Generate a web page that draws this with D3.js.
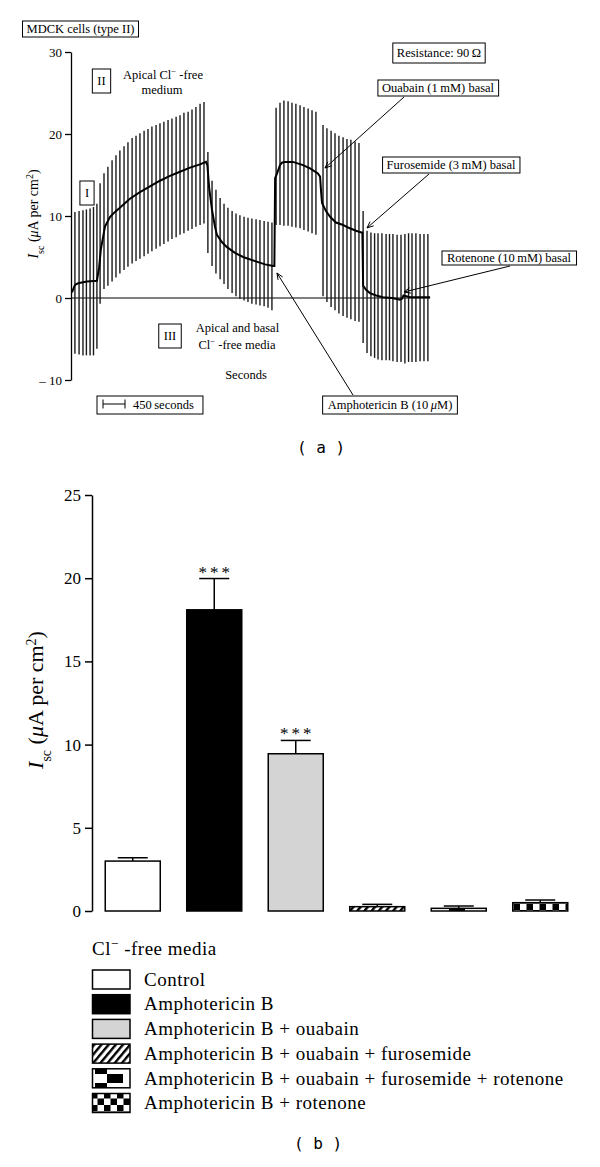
<!DOCTYPE html>
<html><head><meta charset="utf-8">
<script src="https://cdn.jsdelivr.net/npm/d3@7"></script>
<style>
body{margin:0;background:#fff;}
svg{display:block;}
text{font-family:"Liberation Serif","Times New Roman",serif;fill:#000;}
</style></head>
<body><svg id="chart" width="600" height="1167"></svg>
<script>
// ================= Panel (a) data =================
// voltage-clamp pulse bars: time (s), top and bottom (µA per cm²)
const pulseTimes = [80,165,245,315,390,460,530,
  595,675,755,840,920,1000,1085,1165,1250,1330,1410,1495,1575,1655,1740,1820,1900,1985,2065,2150,2230,2310,2395,2475,2555,2640,2720,
  2800,
  2885,2965,3050,3130,3210,3295,3375,3455,3540,3620,3700,3785,3865,3950,4030,4110,
  4195,4275,4355,4440,4520,4600,4685,4765,4850,4930,5010,
  5155,5235,5320,5400,5480,5565,5645,5725,5810,5890,
  5975,
  6055,6135,6210,6280,6360,6445,6515,6585,6670,6750,6830,6905,6975,7055,7140,7220,7300];
const pulseTop = [10.5,10.6,10.7,10.8,10.9,11.1,11.5,
  14.0,15.2,16.0,16.8,17.4,18.0,18.5,19.0,19.5,19.8,20.1,20.4,20.6,20.9,21.1,21.3,21.5,21.7,21.9,22.1,22.3,22.6,22.7,23.0,23.3,23.7,23.9,
  17.8,
  14.3,13.2,12.2,11.5,11.0,10.6,10.3,10.1,9.9,9.8,9.7,9.6,9.5,9.4,9.3,9.2,
  23.2,23.8,24.1,24.0,23.8,23.7,23.5,23.3,23.1,22.9,22.7,
  21.1,20.7,20.4,20.1,19.8,19.6,19.4,19.3,19.1,18.9,
  10.6,
  8.2,8.0,7.9,7.9,7.9,7.8,7.8,7.8,7.7,7.7,7.8,7.9,7.9,7.9,7.8,7.8,7.8];
const pulseBottom = [-6.8,-6.9,-7.0,-7.0,-7.0,-7.0,-6.2,
  -0.7,1.1,1.5,2.0,2.5,3.0,3.4,3.8,4.2,4.5,4.8,5.1,5.4,5.7,6.0,6.3,6.6,6.9,7.2,7.4,7.7,7.9,8.2,8.4,8.7,8.9,9.1,
  5.5,
  3.9,3.0,2.3,1.7,1.1,0.6,0.2,-0.1,-0.3,-0.5,-0.7,-0.8,-0.9,-1.0,-1.2,-1.5,
  8.9,8.9,8.8,8.8,8.7,8.6,8.5,8.3,8.1,7.9,7.7,
  0.2,-0.5,-1.1,-1.5,-1.9,-2.2,-2.4,-2.6,-2.8,-2.9,
  -5.5,
  -6.7,-7.1,-7.3,-7.5,-7.6,-7.6,-7.6,-7.7,-7.8,-7.8,-8.0,-7.8,-7.8,-7.8,-7.7,-7.7,-7.7];
// short-circuit current trace
const traceTimes = [20,80,145,325,530,575,610,655,695,800,900,1000,1205,1410,1615,1820,2025,2230,2435,2640,2760,2790,2825,2885,2945,2985,3090,3190,3355,3520,3765,3970,4140,4160,4175,4215,4275,4315,4375,4540,4745,4890,5050,5095,5115,5135,5215,5300,5420,5565,5705,5830,5940,5960,5975,6035,6115,6240,6380,6565,6730,6770,6800,6935,7140,7345];
const traceValues = [0.7,1.6,1.8,2.0,2.1,3.7,5.9,7.4,8.7,9.9,10.5,11.0,12.1,12.9,13.6,14.3,14.9,15.4,15.9,16.3,16.6,16.2,13.5,10.7,8.7,7.7,6.8,6.2,5.5,5.0,4.5,4.1,3.9,3.9,14.6,15.2,16.2,16.5,16.6,16.6,16.2,15.8,15.2,14.8,13.0,11.6,10.6,9.9,9.2,8.9,8.5,8.2,8.0,8.0,1.5,1.0,0.6,0.3,0.1,0.0,-0.2,-0.1,0.3,0.1,0.1,0.1];
const yTicksA = [-10, 0, 10, 20, 30];
// arrow targets (time s, value)
const ouabainAt = [5195, 15.85];
const furosemideAt = [6054, 8.54];
const rotenoneAt = [6811, 0.73];
const amphoAt = [4213, 3.05];

// ================= Panel (b) data =================
const groups = ["Control","Amphotericin B","Amphotericin B + ouabain","Amphotericin B + ouabain + furosemide","Amphotericin B + ouabain + furosemide + rotenone","Amphotericin B + rotenone"];
const means = [3.0, 18.1, 9.45, 0.26, 0.16, 0.5];
const sems = [0.2, 1.88, 0.8, 0.14, 0.14, 0.16];
const stars = ["", "***", "***", "", "", ""];
const yTicksB = [0, 5, 10, 15, 20, 25];
const fills = ["#ffffff", "#000000", "#d4d4d4", "url(#hatch)", "url(#boxes)", "url(#checker)"];

const svg = d3.select("#chart");

// ---------- patterns ----------
const defs = svg.append("defs");
const ph = defs.append("pattern").attr("id","hatch").attr("patternUnits","userSpaceOnUse")
  .attr("width",5.5).attr("height",5.5).attr("patternTransform","rotate(40)");
ph.append("rect").attr("width",5.5).attr("height",5.5).attr("fill","#fff");
ph.append("rect").attr("width",2.4).attr("height",5.5).attr("fill","#000");
const pc = defs.append("pattern").attr("id","checker").attr("patternUnits","userSpaceOnUse")
  .attr("width",13).attr("height",13);
pc.append("rect").attr("width",13).attr("height",13).attr("fill","#fff");
pc.append("rect").attr("width",6.5).attr("height",6.5).attr("fill","#000");
pc.append("rect").attr("x",6.5).attr("y",6.5).attr("width",6.5).attr("height",6.5).attr("fill","#000");
const pb = defs.append("pattern").attr("id","boxes").attr("patternUnits","userSpaceOnUse")
  .attr("width",38).attr("height",19);
pb.append("rect").attr("width",38).attr("height",19).attr("fill","#fff");
pb.append("rect").attr("x",19).attr("y",0).attr("width",12).attr("height",10).attr("fill","#000");
pb.append("rect").attr("x",0).attr("y",10).attr("width",9).attr("height",9).attr("fill","#000");
pb.append("rect").attr("x",31).attr("y",10).attr("width",7).attr("height",9).attr("fill","#000");

// ================= Panel (a) =================
const xA = d3.scaleLinear().domain([0, 7400]).range([71, 71 + 7400 * 22 / 450]);
const yA = d3.scaleLinear().domain([-10, 30]).range([380, 52]);
const gA = svg.append("g");

// zero line
gA.append("line").attr("x1", xA(0)).attr("x2", xA(traceTimes[traceTimes.length-1]))
  .attr("y1", yA(0)).attr("y2", yA(0)).attr("stroke","#000").attr("stroke-width",1.2);

// pulse bars
gA.append("g").selectAll("line").data(pulseTimes).join("line")
  .attr("x1", d => xA(d)).attr("x2", d => xA(d))
  .attr("y1", (d,i) => yA(pulseTop[i])).attr("y2", (d,i) => yA(pulseBottom[i]))
  .attr("stroke","#1a1a1a").attr("stroke-width",1.4);

// trace
gA.append("path").datum(traceTimes)
  .attr("d", d3.line().x(d => xA(d)).y((d,i) => yA(traceValues[i])))
  .attr("fill","none").attr("stroke","#000").attr("stroke-width",2);

// y axis
const axA = gA.append("g").attr("transform",`translate(${xA(0)},0)`)
  .call(d3.axisLeft(yA).tickValues(yTicksA).tickSize(6).tickSizeOuter(0).tickPadding(3)
    .tickFormat(d => d < 0 ? "\u2013 " + Math.abs(d) : d));
axA.select(".domain").attr("stroke-width",1.3);
axA.selectAll(".tick line").attr("stroke-width",1.3);
axA.selectAll("text").attr("font-family","Liberation Serif").attr("font-size",13);

function iscLabel(g, x, y, fs, sub) {
  const t = g.append("text").attr("transform",`translate(${x},${y}) rotate(-90)`)
    .attr("text-anchor","middle").attr("font-size",fs);
  t.append("tspan").attr("font-style","italic").text("I");
  t.append("tspan").attr("font-size",sub).attr("baseline-shift","sub").text("sc");
  t.append("tspan").text(" (");
  t.append("tspan").attr("font-style","italic").text("\u03bc");
  t.append("tspan").text("A per cm");
  t.append("tspan").attr("font-size",sub).attr("baseline-shift","super").text("2");
  t.append("tspan").text(")");
  return t;
}
iscLabel(gA, 38, 214, 14, 10);

// boxed labels
function boxed(g, x, y, txt, fs, anchor, pad) {
  const t = g.append("text").attr("x",x).attr("y",y).attr("font-size",fs)
    .attr("text-anchor",anchor || "middle");
  if (typeof txt === "function") txt(t); else t.text(txt);
  const b = t.node().getBBox();
  const pl = pad[0], py = pad[1], pr = pad.length > 2 ? pad[2] : pad[0];
  g.insert("rect", () => t.node()).attr("x", b.x - pl).attr("y", b.y - py)
    .attr("width", b.width + pl + pr).attr("height", b.height + 2*py)
    .attr("fill","#fff").attr("stroke","#000").attr("stroke-width",1);
  return t;
}
const fsA = 12.5;
boxed(gA, 80.5, 33, "MDCK cells (type II)", fsA, "middle", [4,1]);
boxed(gA, 439, 57, "Resistance: 90\u2009\u03a9", fsA, "middle", [4,3]);
boxed(gA, 438, 92, "Ouabain (1\u2009mM) basal", fsA, "middle", [4,1]);
boxed(gA, 451, 169, "Furosemide (3\u2009mM) basal", fsA, "middle", [4,1]);
boxed(gA, 509, 262, "Rotenone (10\u2009mM) basal", fsA, "middle", [5,0]);
boxed(gA, 390, 409, t => {
  t.append("tspan").text("Amphotericin B (10\u2009");
  t.append("tspan").attr("font-style","italic").text("\u03bc");
  t.append("tspan").text("M)");
}, fsA, "middle", [5,2]);
boxed(gA, 87, 197, "I", fsA, "middle", [5,5]);
boxed(gA, 101.5, 85, "II", fsA, "middle", [5,5]);
boxed(gA, 170, 340, "III", fsA, "middle", [5,5]);

function clText(t, rest) {
  t.append("tspan").text("Cl");
  t.append("tspan").attr("font-size","0.7em").attr("baseline-shift","super").text("\u2212");
  t.append("tspan").text(rest);
}
gA.append("text").attr("x",163).attr("y",79).attr("font-size",fsA).attr("text-anchor","middle")
  .call(t => { t.append("tspan").text("Apical "); clText(t, " -free"); });
gA.append("text").attr("x",162).attr("y",94).attr("font-size",fsA).attr("text-anchor","middle").text("medium");
gA.append("text").attr("x",237.5).attr("y",332).attr("font-size",fsA).attr("text-anchor","middle").text("Apical and basal");
gA.append("text").attr("x",237).attr("y",349).attr("font-size",fsA).attr("text-anchor","middle")
  .call(t => clText(t, " -free media"));
gA.append("text").attr("x",246).attr("y",379).attr("font-size",fsA).attr("text-anchor","middle").text("Seconds");

// scale bar box
boxed(gA, 133, 409, "450\u2009seconds", fsA, "start", [36,2,9]);
const sbx0 = xA(0) + 32, sbx1 = sbx0 + (xA(450) - xA(0));
gA.append("path").attr("d", `M${sbx0},${404}H${sbx1}M${sbx0},${399.5}V${408.5}M${sbx1},${399.5}V${408.5}`)
  .attr("stroke","#000").attr("stroke-width",1).attr("fill","none");

// arrows
function arrow(g, x0, y0, x1, y1) {
  g.append("line").attr("x1",x0).attr("y1",y0).attr("x2",x1).attr("y2",y1)
    .attr("stroke","#000").attr("stroke-width",1);
  const a = Math.atan2(y1 - y0, x1 - x0), L = 7, s = 0.4;
  const p1 = [x1 - L*Math.cos(a - s), y1 - L*Math.sin(a - s)];
  const p2 = [x1 - L*Math.cos(a + s), y1 - L*Math.sin(a + s)];
  g.append("path").attr("d",`M${p1}L${x1},${y1}L${p2}`).attr("fill","none")
    .attr("stroke","#000").attr("stroke-width",1);
}
arrow(gA, 404, 97, xA(ouabainAt[0]), yA(ouabainAt[1]));
arrow(gA, 429, 174, xA(furosemideAt[0]), yA(furosemideAt[1]));
arrow(gA, 510, 266, xA(rotenoneAt[0]), yA(rotenoneAt[1]));
arrow(gA, 353, 395, xA(amphoAt[0]), yA(amphoAt[1]));

svg.append("text").attr("x",321).attr("y",453).attr("text-anchor","middle")
  .attr("style","font-family:'DejaVu Sans Mono'").attr("font-size",16).text("( a )");

// ================= Panel (b) =================
const xB = d3.scaleBand().domain(groups).range([92, 581]).paddingInner(0.325).paddingOuter(0.1625);
const yB = d3.scaleLinear().domain([0, 25]).range([911, 495]);
const gB = svg.append("g");

gB.append("g").selectAll("rect").data(groups).join("rect")
  .attr("x", d => xB(d)).attr("width", xB.bandwidth())
  .attr("y", (d,i) => yB(means[i])).attr("height", (d,i) => yB(0) - yB(means[i]))
  .attr("fill", (d,i) => fills[i]).attr("stroke","#000").attr("stroke-width",1.5);

// error bars
const eb = gB.append("g").attr("stroke","#000").attr("stroke-width",1.5);
groups.forEach((d,i) => {
  const cx = xB(d) + xB.bandwidth()/2;
  eb.append("line").attr("x1",cx).attr("x2",cx).attr("y1",yB(means[i])).attr("y2",yB(means[i]+sems[i]));
  eb.append("line").attr("x1",cx-15).attr("x2",cx+15).attr("y1",yB(means[i]+sems[i])).attr("y2",yB(means[i]+sems[i]));
  if (stars[i]) gB.append("text").attr("x",cx + 1.5).attr("y",yB(means[i]+sems[i]) - 1)
    .attr("text-anchor","middle").attr("font-size",17).attr("letter-spacing",3).text(stars[i]);
});

const axB = gB.append("g").attr("transform",`translate(92,0)`)
  .call(d3.axisLeft(yB).tickValues(yTicksB).tickSize(7).tickSizeOuter(0).tickPadding(4));
axB.select(".domain").attr("stroke-width",1.5);
axB.selectAll(".tick line").attr("stroke-width",1.5);
axB.selectAll("text").attr("font-family","Liberation Serif").attr("font-size",17);
iscLabel(gB, 43, 700, 22, 14);

// legend
const fsL = 19, lsL = 0.5;
const leg = gB.append("g");
leg.append("text").attr("x",92).attr("y",955).attr("font-size",fsL).attr("letter-spacing",lsL)
  .call(t => clText(t, " -free media"));
groups.forEach((d,i) => {
  const y0 = 970 + i * 24.7;
  leg.append("rect").attr("x",92.5).attr("y",y0).attr("width",37.5).attr("height",19)
    .attr("fill",fills[i]).attr("stroke","#000").attr("stroke-width",1.5);
  leg.append("text").attr("x",144).attr("y",y0 + 15.7).attr("font-size",fsL).attr("letter-spacing",lsL).text(d);
});

svg.append("text").attr("x",318).attr("y",1149).attr("text-anchor","middle")
  .attr("style","font-family:'DejaVu Sans Mono'").attr("font-size",16).text("( b )");
</script></body></html>
